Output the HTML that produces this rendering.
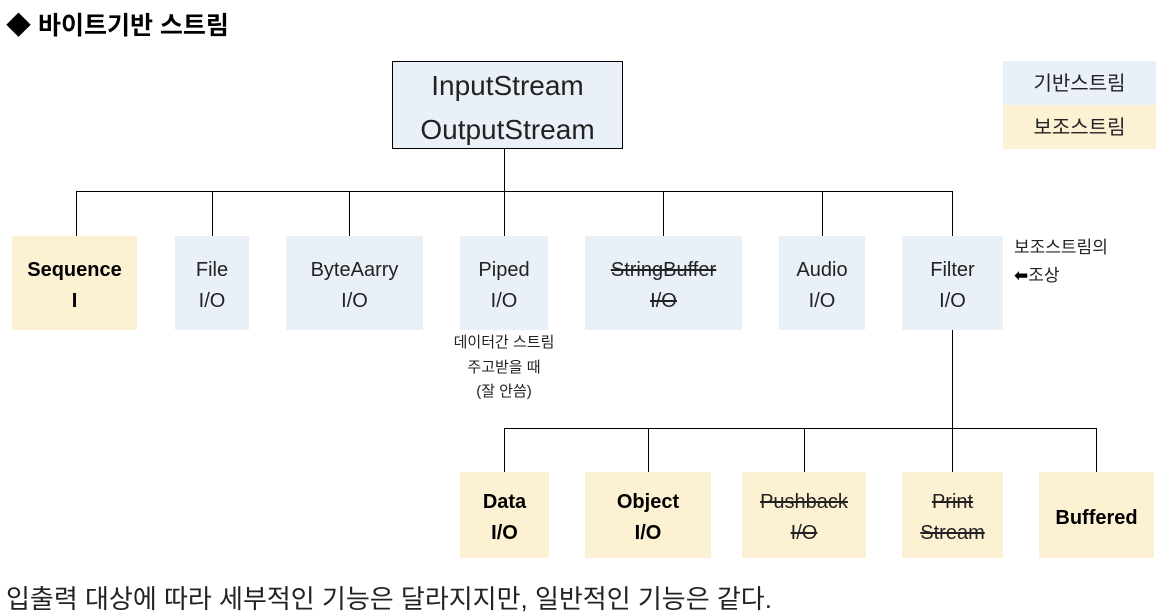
<!DOCTYPE html>
<html><head><meta charset="utf-8"><style>
body{margin:0;width:1159px;height:615px;background:#fff;position:relative;overflow:hidden;font-family:"Liberation Sans","Noto Sans CJK KR",sans-serif;color:#111}
.a{position:absolute}
.b{position:absolute;display:flex;flex-direction:column;align-items:center;justify-content:center;text-align:center;font-size:20px;line-height:31px;color:#222;box-sizing:border-box;padding-top:6px}
.bl{background:#e9f0f8}.ye{background:#fdf1d3}
.bo{font-weight:bold;color:#000}
.s{text-decoration:line-through}
.h{position:absolute;background:#000;height:1px}
.v{position:absolute;background:#000;width:1px}
</style></head><body>
<div class="a" style="left:6px;top:6px;font-size:25px;font-weight:bold;color:#000">◆ 바이트기반 스트림</div>
<div class="b bl" style="left:392px;top:61px;width:231px;height:88px;border:1px solid #000;font-size:28px;line-height:44px">InputStream<br>OutputStream</div>
<div class="b bl" style="left:1003px;top:61px;width:153px;height:44px;padding-top:2px">기반스트림</div>
<div class="b ye" style="left:1003px;top:105px;width:153px;height:44px;padding-top:2px">보조스트림</div>
<div class="v" style="left:504px;top:149px;height:42px"></div>
<div class="h" style="left:76px;top:191px;width:877px"></div>
<div class="v" style="left:76px;top:191px;height:45px"></div>
<div class="v" style="left:212px;top:191px;height:45px"></div>
<div class="v" style="left:349px;top:191px;height:45px"></div>
<div class="v" style="left:504px;top:191px;height:45px"></div>
<div class="v" style="left:663px;top:191px;height:45px"></div>
<div class="v" style="left:822px;top:191px;height:45px"></div>
<div class="v" style="left:952px;top:191px;height:45px"></div>
<div class="b ye bo" style="left:12px;top:236px;width:125px;height:94px">Sequence<br>I</div>
<div class="b bl" style="left:175px;top:236px;width:74px;height:94px">File<br>I/O</div>
<div class="b bl" style="left:286px;top:236px;width:137px;height:94px">ByteAarry<br>I/O</div>
<div class="b bl" style="left:460px;top:236px;width:88px;height:94px">Piped<br>I/O</div>
<div class="b bl s" style="left:585px;top:236px;width:157px;height:94px"><span class="s">StringBuffer</span><span class="s">I/O</span></div>
<div class="b bl" style="left:779px;top:236px;width:86px;height:94px">Audio<br>I/O</div>
<div class="b bl" style="left:902px;top:236px;width:101px;height:94px">Filter<br>I/O</div>
<div class="a" style="left:430px;top:331px;width:148px;text-align:center;font-size:15px;line-height:24.5px;color:#222">데이터간 스트림<br>주고받을 때<br>(잘 안씀)</div>
<div class="a" style="left:1014px;top:234px;font-size:17px;line-height:28px;color:#222">보조스트림의<br><b style="color:#000;font-family:'DejaVu Sans'">⬅</b>조상</div>
<div class="v" style="left:952px;top:330px;height:98px"></div>
<div class="h" style="left:504px;top:428px;width:593px"></div>
<div class="v" style="left:504px;top:428px;height:44px"></div>
<div class="v" style="left:648px;top:428px;height:44px"></div>
<div class="v" style="left:804px;top:428px;height:44px"></div>
<div class="v" style="left:952px;top:428px;height:44px"></div>
<div class="v" style="left:1096px;top:428px;height:44px"></div>
<div class="b ye bo" style="left:460px;top:472px;width:89px;height:86px">Data<br>I/O</div>
<div class="b ye bo" style="left:585px;top:472px;width:126px;height:86px">Object<br>I/O</div>
<div class="b ye" style="left:742px;top:472px;width:124px;height:86px"><span class="s">Pushback</span><span class="s">I/O</span></div>
<div class="b ye" style="left:902px;top:472px;width:101px;height:86px"><span class="s">Print</span><span class="s">Stream</span></div>
<div class="b ye bo" style="left:1039px;top:472px;width:115px;height:86px">Buffered</div>
<div class="a" style="left:6px;top:579px;font-size:26px;color:#222;white-space:nowrap">입출력 대상에 따라 세부적인 기능은 달라지지만, 일반적인 기능은 같다.</div>
</body></html>
